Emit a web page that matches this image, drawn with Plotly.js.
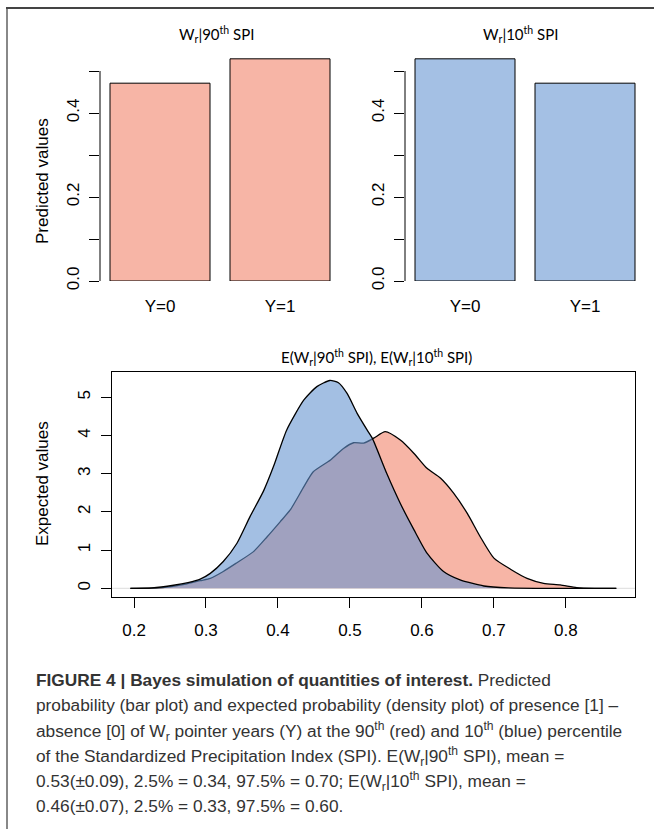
<!DOCTYPE html>
<html>
<head>
<meta charset="utf-8">
<script src="https://cdn.plot.ly/plotly-3.0.1.min.js"></script>
<style>html,body{margin:0;padding:0;background:#fff;}#chart{width:654px;height:829px;}</style>
</head>
<body>
<div id="chart"></div>
<script>
// ---- data ----
var barCategories = ["Y=0", "Y=1"];
var predicted90 = [0.471, 0.529];
var predicted10 = [0.529, 0.471];

var dens90X = [0.195, 0.24, 0.27, 0.292, 0.306, 0.324, 0.343, 0.366, 0.385, 0.403, 0.417, 0.436, 0.449, 0.473, 0.491, 0.505, 0.519, 0.533, 0.549, 0.570, 0.589, 0.607, 0.626, 0.644, 0.663, 0.681, 0.700, 0.723, 0.746, 0.769, 0.792, 0.815, 0.84, 0.87];
var dens90Y = [0, 0.02, 0.10, 0.20, 0.26, 0.44, 0.67, 0.96, 1.35, 1.74, 2.05, 2.66, 3.05, 3.36, 3.66, 3.81, 3.80, 3.93, 4.10, 3.88, 3.53, 3.14, 2.88, 2.49, 1.96, 1.35, 0.79, 0.50, 0.26, 0.13, 0.09, 0.02, 0.0, 0];

var dens10X = [0.195, 0.225, 0.255, 0.275, 0.292, 0.306, 0.324, 0.343, 0.361, 0.380, 0.394, 0.412, 0.436, 0.454, 0.472, 0.484, 0.496, 0.510, 0.524, 0.531, 0.551, 0.570, 0.589, 0.607, 0.630, 0.653, 0.686, 0.720, 0.760, 0.87];
var dens10Y = [0, 0.01, 0.08, 0.15, 0.24, 0.39, 0.70, 1.18, 1.87, 2.55, 3.20, 4.14, 4.93, 5.28, 5.44, 5.38, 5.10, 4.58, 4.14, 3.93, 3.01, 2.22, 1.53, 0.92, 0.44, 0.22, 0.06, 0.01, 0.0, 0];

var barTicks = [0, 0.1, 0.2, 0.3, 0.4, 0.5];
var barTickText = ["0.0", "", "0.2", "", "0.4", ""];
var densXTicks = [0.2, 0.3, 0.4, 0.5, 0.6, 0.7, 0.8];
var densXTickText = ["0.2", "0.3", "0.4", "0.5", "0.6", "0.7", "0.8"];
var densYTicks = [0, 1, 2, 3, 4, 5];
var densYTickText = ["0", "1", "2", "3", "4", "5"];

var captionLines = [
  "<b>FIGURE 4 | Bayes simulation of quantities of interest.</b> Predicted",
  "probability (bar plot) and expected probability (density plot) of presence [1] \u2013",
  "absence [0] of W<sub>r</sub> pointer years (Y) at the 90<sup>th</sup> (red) and 10<sup>th</sup> (blue) percentile",
  "of the Standardized Precipitation Index (SPI). E(W<sub>r</sub>|90<sup>th</sup> SPI), mean =",
  "0.53(\u00b10.09), 2.5% = 0.34, 97.5% = 0.70; E(W<sub>r</sub>|10<sup>th</sup> SPI), mean =",
  "0.46(\u00b10.07), 2.5% = 0.33, 97.5% = 0.60."
];

// ---- styling ----
var W = 654, H = 829;
function px(x){ return x / W; }
function py(y){ return 1 - y / H; }
var RED = "#F7B5A6", BLUE = "#A4C0E4";
var axisFont = {family: "Liberation Sans, Arial, sans-serif", size: 17, color: "#000"};
var titleFont = {family: "Lato, Open Sans, sans-serif", size: 15, color: "#000"};

var traces = [
  {type: "bar", x: barCategories, y: predicted90, xaxis: "x", yaxis: "y",
   marker: {color: RED, line: {color: "#000", width: 1}}, hoverinfo: "none"},
  {type: "bar", x: barCategories, y: predicted10, xaxis: "x2", yaxis: "y2",
   marker: {color: BLUE, line: {color: "#000", width: 1}}, hoverinfo: "none"},
  {type: "scatter", mode: "lines", x: dens90X, y: dens90Y, xaxis: "x3", yaxis: "y3",
   fill: "tozeroy", fillcolor: RED, line: {color: "#000", width: 1.3, shape: "spline", smoothing: 0.6}, hoverinfo: "none"},
  {type: "scatter", mode: "lines", x: dens10X, y: dens10Y, xaxis: "x3", yaxis: "y3",
   fill: "tozeroy", fillcolor: "rgba(102,148,208,0.6)", line: {color: "#000", width: 1.3, shape: "spline", smoothing: 0.6}, hoverinfo: "none"}
];

function barX(d0, d1, anchor){
  return {domain: [px(d0), px(d1)], anchor: anchor, type: "category", range: [-0.5, 1.5],
    showline: false, ticks: "", showgrid: false, zeroline: false, tickfont: axisFont, ticklabelstandoff: 13, fixedrange: true};
}
function barY(anchor){
  return {domain: [py(281), py(50)], anchor: anchor, range: [0, 0.55], tickvals: barTicks, ticktext: barTickText,
    ticks: "outside", ticklen: 10, tickwidth: 1, tickcolor: "#000", tickangle: -90, tickfont: axisFont, ticklabelstandoff: 3,
    showline: false, showgrid: false, zeroline: false, fixedrange: true};
}

var annotations = [
  {text: "W<sub>r</sub>|90<sup>th</sup> SPI", xref: "paper", yref: "paper", x: px(216), y: py(34), xanchor: "center", yanchor: "middle", showarrow: false, font: titleFont},
  {text: "W<sub>r</sub>|10<sup>th</sup> SPI", xref: "paper", yref: "paper", x: px(520), y: py(34), xanchor: "center", yanchor: "middle", showarrow: false, font: titleFont},
  {text: "E(W<sub>r</sub>|90<sup>th</sup> SPI), E(W<sub>r</sub>|10<sup>th</sup> SPI)", xref: "paper", yref: "paper", x: px(376), y: py(357), xanchor: "center", yanchor: "middle", showarrow: false, font: titleFont},
  {text: "Predicted values", xref: "paper", yref: "paper", x: px(42), y: py(181), xanchor: "center", yanchor: "middle", textangle: -90, showarrow: false, font: axisFont},
  {text: "Expected values", xref: "paper", yref: "paper", x: px(42), y: py(484), xanchor: "center", yanchor: "middle", textangle: -90, showarrow: false, font: axisFont}
];
var capY = [680, 705, 731, 756, 781, 806];
for (var i = 0; i < captionLines.length; i++) {
  annotations.push({text: captionLines[i], xref: "paper", yref: "paper", x: px(34), y: py(capY[i]),
    xanchor: "left", yanchor: "middle", showarrow: false, align: "left",
    font: {family: "Liberation Sans, Arial, sans-serif", size: 17.3, color: "#333"}});
}

var shapes = [
  {type: "line", xref: "x domain", yref: "y", x0: 0, x1: 0, y0: 0, y1: 0.5, line: {color: "#000", width: 1}},
  {type: "line", xref: "x2 domain", yref: "y2", x0: 0, x1: 0, y0: 0, y1: 0.5, line: {color: "#000", width: 1}},
  {type: "line", xref: "x3 domain", yref: "y3", x0: 0, x1: 1, y0: 0, y1: 0, line: {color: "#DDDDDD", width: 1}, layer: "below"},
  {type: "line", xref: "paper", yref: "paper", x0: px(7), x1: px(7), y0: py(8), y1: 0, line: {color: "#888", width: 2}},
  {type: "line", xref: "paper", yref: "paper", x0: px(6), x1: 1, y0: py(8), y1: py(8), line: {color: "#444", width: 2}}
];

var layout = {
  width: W, height: H, margin: {l: 0, r: 0, t: 0, b: 0}, showlegend: false,
  paper_bgcolor: "#fff", plot_bgcolor: "rgba(0,0,0,0)", bargap: 1/6,
  font: axisFont,
  xaxis: barX(100, 340, "y"),
  yaxis: barY("x"),
  xaxis2: barX(405, 645, "y2"),
  yaxis2: barY("x2"),
  xaxis3: {domain: [px(111.7), px(635)], anchor: "y3", range: [0.169, 0.896], tickvals: densXTicks, ticktext: densXTickText,
    ticks: "outside", ticklen: 10, tickwidth: 1, tickcolor: "#000", showline: true, mirror: true, linecolor: "#000", linewidth: 1,
    showgrid: false, zeroline: false, tickfont: axisFont, ticklabelstandoff: 8, fixedrange: true},
  yaxis3: {domain: [py(596.7), py(371.7)], anchor: "x3", range: [-0.22, 5.67], tickvals: densYTicks, ticktext: densYTickText,
    ticks: "outside", ticklen: 10, tickwidth: 1, tickcolor: "#000", tickangle: -90, showline: true, mirror: true, linecolor: "#000", linewidth: 1,
    showgrid: false, zeroline: false, tickfont: axisFont, ticklabelstandoff: 4, fixedrange: true},
  annotations: annotations,
  shapes: shapes
};

Plotly.newPlot("chart", traces, layout, {staticPlot: true, displayModeBar: false});
</script>
</body>
</html>
